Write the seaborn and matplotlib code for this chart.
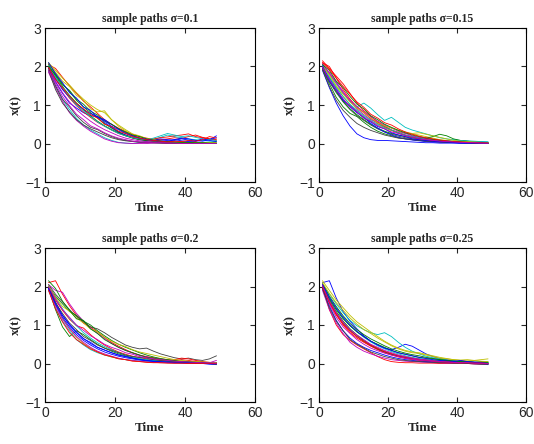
import numpy as np
import pandas as pd
import matplotlib
matplotlib.use("Agg")
import matplotlib.pyplot as plt
import seaborn as sns

sns.set_style("ticks")
plt.rcParams['font.family'] = ['Liberation Sans', 'DejaVu Sans']

# time grid of the sample paths
t = [1, 3, 5, 7, 9, 11, 13, 15, 17, 19, 21, 23, 25, 27, 29, 31, 33, 35, 37, 39, 41, 43, 45, 47, 49]

sigmas = ["0.1", "0.15", "0.2", "0.25"]

paths_s1 = [
    [2.05, 1.95, 1.72, 1.50, 1.30, 1.10, 0.95, 0.78, 0.62, 0.50, 0.40, 0.31, 0.24, 0.18, 0.14, 0.11, 0.10, 0.12, 0.15, 0.13, 0.18, 0.22, 0.16, 0.12, 0.10],
    [2.10, 1.80, 1.55, 1.35, 1.12, 0.95, 0.80, 0.66, 0.52, 0.40, 0.30, 0.22, 0.16, 0.12, 0.08, 0.06, 0.05, 0.04, 0.03, 0.03, 0.02, 0.02, 0.02, 0.01, 0.01],
    [1.95, 1.60, 1.30, 1.05, 0.92, 0.80, 0.72, 0.70, 0.55, 0.42, 0.30, 0.22, 0.15, 0.10, 0.08, 0.09, 0.12, 0.10, 0.08, 0.12, 0.09, 0.06, 0.08, 0.10, 0.20],
    [1.90, 1.50, 1.15, 0.88, 0.65, 0.48, 0.35, 0.25, 0.15, 0.08, 0.03, 0.01, 0.00, 0.02, 0.05, 0.10, 0.16, 0.22, 0.18, 0.15, 0.12, 0.10, 0.08, 0.06, 0.05],
    [1.85, 1.45, 1.10, 0.80, 0.60, 0.45, 0.32, 0.22, 0.12, 0.06, 0.02, 0.01, 0.00, 0.00, 0.00, 0.01, 0.01, 0.00, 0.00, 0.01, 0.00, 0.00, 0.01, 0.00, 0.00],
    [2.10, 1.90, 1.70, 1.52, 1.32, 1.15, 1.00, 0.88, 0.80, 0.62, 0.45, 0.33, 0.22, 0.15, 0.10, 0.07, 0.05, 0.04, 0.03, 0.05, 0.03, 0.02, 0.02, 0.03, 0.02],
    [1.90, 1.40, 1.05, 0.82, 0.62, 0.48, 0.38, 0.30, 0.22, 0.15, 0.10, 0.07, 0.05, 0.03, 0.02, 0.02, 0.01, 0.01, 0.01, 0.01, 0.00, 0.00, 0.01, 0.00, 0.00],
    [2.00, 1.70, 1.42, 1.18, 0.98, 0.82, 0.68, 0.55, 0.45, 0.35, 0.26, 0.20, 0.15, 0.11, 0.09, 0.12, 0.15, 0.17, 0.20, 0.22, 0.25, 0.18, 0.15, 0.12, 0.08],
    [2.05, 1.75, 1.48, 1.25, 1.05, 0.88, 0.72, 0.58, 0.46, 0.36, 0.28, 0.20, 0.14, 0.10, 0.07, 0.05, 0.04, 0.03, 0.02, 0.02, 0.01, 0.01, 0.01, 0.00, 0.00],
    [2.00, 1.68, 1.40, 1.20, 1.02, 0.88, 0.78, 0.70, 0.62, 0.50, 0.38, 0.28, 0.20, 0.14, 0.10, 0.08, 0.06, 0.05, 0.10, 0.14, 0.12, 0.08, 0.06, 0.10, 0.15],
    [2.02, 1.72, 1.45, 1.20, 1.00, 0.85, 0.70, 0.56, 0.45, 0.35, 0.26, 0.20, 0.15, 0.12, 0.10, 0.14, 0.20, 0.26, 0.22, 0.18, 0.20, 0.16, 0.12, 0.10, 0.08],
    [1.98, 1.62, 1.32, 1.08, 0.88, 0.72, 0.58, 0.46, 0.36, 0.28, 0.20, 0.14, 0.10, 0.07, 0.05, 0.04, 0.03, 0.02, 0.02, 0.01, 0.01, 0.01, 0.01, 0.00, 0.00],
    [2.08, 1.85, 1.62, 1.48, 1.25, 1.12, 0.90, 0.82, 0.85, 0.62, 0.48, 0.36, 0.25, 0.20, 0.13, 0.10, 0.06, 0.05, 0.04, 0.03, 0.03, 0.02, 0.02, 0.01, 0.01],
    [1.95, 1.50, 1.15, 0.95, 0.72, 0.55, 0.42, 0.36, 0.26, 0.18, 0.12, 0.08, 0.06, 0.04, 0.03, 0.02, 0.02, 0.01, 0.01, 0.01, 0.01, 0.00, 0.00, 0.00, 0.00],
    [2.00, 1.78, 1.52, 1.38, 1.15, 1.02, 0.84, 0.74, 0.58, 0.50, 0.38, 0.30, 0.22, 0.18, 0.12, 0.09, 0.07, 0.05, 0.04, 0.03, 0.03, 0.02, 0.02, 0.01, 0.01],
    [2.10, 1.82, 1.58, 1.32, 1.18, 0.95, 0.86, 0.68, 0.60, 0.45, 0.36, 0.26, 0.20, 0.14, 0.11, 0.08, 0.06, 0.08, 0.10, 0.07, 0.05, 0.06, 0.12, 0.08, 0.05],
    [1.98, 1.66, 1.45, 1.22, 1.04, 0.90, 0.75, 0.66, 0.50, 0.44, 0.32, 0.26, 0.18, 0.14, 0.10, 0.08, 0.06, 0.04, 0.06, 0.05, 0.08, 0.06, 0.10, 0.18, 0.14],
    [1.90, 1.55, 1.22, 0.98, 0.76, 0.62, 0.46, 0.38, 0.28, 0.20, 0.14, 0.10, 0.06, 0.04, 0.03, 0.02, 0.02, 0.01, 0.01, 0.00, 0.00, 0.00, 0.00, 0.00, 0.00],
]

paths_s2 = [
    [2.10, 2.00, 1.70, 1.40, 1.15, 0.95, 0.80, 0.65, 0.52, 0.42, 0.34, 0.27, 0.21, 0.16, 0.12, 0.10, 0.08, 0.06, 0.05, 0.04, 0.03, 0.03, 0.02, 0.02, 0.01],
    [1.95, 1.55, 1.20, 0.95, 0.78, 0.70, 0.55, 0.42, 0.32, 0.25, 0.20, 0.15, 0.12, 0.10, 0.08, 0.07, 0.06, 0.05, 0.04, 0.03, 0.03, 0.02, 0.02, 0.02, 0.01],
    [1.90, 1.45, 1.05, 0.72, 0.45, 0.25, 0.15, 0.10, 0.08, 0.08, 0.07, 0.06, 0.05, 0.04, 0.03, 0.02, 0.02, 0.01, 0.01, 0.01, 0.00, 0.00, 0.00, 0.00, 0.00],
    [2.05, 1.80, 1.55, 1.30, 1.10, 0.95, 1.05, 0.92, 0.75, 0.60, 0.68, 0.55, 0.42, 0.35, 0.30, 0.25, 0.20, 0.15, 0.12, 0.10, 0.08, 0.07, 0.06, 0.05, 0.04],
    [2.00, 1.85, 1.60, 1.35, 1.10, 0.90, 0.75, 0.62, 0.55, 0.45, 0.35, 0.28, 0.22, 0.18, 0.14, 0.10, 0.08, 0.06, 0.05, 0.04, 0.03, 0.02, 0.02, 0.02, 0.01],
    [2.05, 1.75, 1.48, 1.22, 1.00, 0.85, 0.70, 0.58, 0.48, 0.40, 0.34, 0.30, 0.26, 0.25, 0.22, 0.18, 0.14, 0.10, 0.08, 0.06, 0.05, 0.04, 0.03, 0.03, 0.02],
    [1.95, 1.60, 1.32, 1.08, 0.88, 0.72, 0.60, 0.48, 0.38, 0.30, 0.24, 0.19, 0.15, 0.12, 0.10, 0.08, 0.06, 0.05, 0.04, 0.03, 0.03, 0.02, 0.02, 0.01, 0.01],
    [2.15, 1.95, 1.75, 1.55, 1.30, 1.05, 0.85, 0.70, 0.56, 0.44, 0.35, 0.28, 0.22, 0.17, 0.14, 0.11, 0.08, 0.06, 0.05, 0.04, 0.03, 0.03, 0.02, 0.02, 0.01],
    [2.00, 1.65, 1.35, 1.10, 0.90, 0.75, 0.62, 0.50, 0.40, 0.32, 0.26, 0.22, 0.18, 0.15, 0.12, 0.14, 0.18, 0.24, 0.20, 0.12, 0.08, 0.06, 0.04, 0.03, 0.02],
    [1.98, 1.70, 1.42, 1.15, 0.95, 0.80, 0.68, 0.52, 0.40, 0.30, 0.22, 0.16, 0.12, 0.09, 0.07, 0.05, 0.04, 0.03, 0.03, 0.02, 0.02, 0.01, 0.01, 0.01, 0.01],
    [2.02, 1.72, 1.45, 1.22, 1.02, 0.86, 0.72, 0.60, 0.50, 0.42, 0.35, 0.28, 0.22, 0.18, 0.15, 0.12, 0.10, 0.08, 0.07, 0.06, 0.08, 0.06, 0.05, 0.05, 0.04],
    [2.08, 1.82, 1.58, 1.32, 1.12, 0.96, 0.82, 0.70, 0.58, 0.48, 0.40, 0.32, 0.26, 0.20, 0.16, 0.13, 0.10, 0.08, 0.06, 0.05, 0.04, 0.03, 0.02, 0.02, 0.01],
    [2.00, 1.78, 1.50, 1.28, 1.08, 0.92, 0.80, 0.66, 0.54, 0.46, 0.40, 0.35, 0.30, 0.26, 0.28, 0.24, 0.20, 0.16, 0.12, 0.08, 0.06, 0.05, 0.04, 0.03, 0.02],
    [1.92, 1.48, 1.12, 0.86, 0.68, 0.52, 0.42, 0.34, 0.28, 0.22, 0.18, 0.14, 0.12, 0.10, 0.08, 0.06, 0.05, 0.04, 0.03, 0.03, 0.02, 0.02, 0.01, 0.01, 0.01],
    [2.05, 1.90, 1.62, 1.45, 1.22, 1.02, 0.90, 0.72, 0.62, 0.50, 0.42, 0.34, 0.28, 0.22, 0.18, 0.14, 0.11, 0.08, 0.06, 0.05, 0.04, 0.03, 0.02, 0.02, 0.01],
    [2.02, 1.62, 1.38, 1.12, 0.98, 0.82, 0.66, 0.56, 0.44, 0.38, 0.28, 0.22, 0.18, 0.12, 0.10, 0.08, 0.06, 0.05, 0.04, 0.03, 0.02, 0.02, 0.01, 0.01, 0.00],
    [2.10, 1.92, 1.70, 1.48, 1.28, 1.08, 0.94, 0.76, 0.66, 0.54, 0.48, 0.38, 0.30, 0.24, 0.19, 0.15, 0.12, 0.09, 0.07, 0.05, 0.04, 0.03, 0.02, 0.02, 0.01],
    [1.98, 1.66, 1.40, 1.16, 0.96, 0.82, 0.66, 0.58, 0.46, 0.38, 0.30, 0.26, 0.20, 0.16, 0.12, 0.10, 0.08, 0.06, 0.05, 0.04, 0.03, 0.02, 0.02, 0.01, 0.01],
]

paths_s3 = [
    [2.10, 2.15, 1.80, 1.50, 1.25, 1.05, 0.95, 0.82, 0.68, 0.55, 0.45, 0.36, 0.28, 0.22, 0.18, 0.15, 0.12, 0.10, 0.08, 0.10, 0.08, 0.05, 0.03, 0.02, 0.01],
    [1.95, 1.40, 0.95, 0.70, 0.85, 0.75, 0.62, 0.50, 0.40, 0.32, 0.25, 0.20, 0.15, 0.12, 0.10, 0.08, 0.06, 0.05, 0.04, 0.03, 0.03, 0.02, 0.02, 0.01, 0.01],
    [2.00, 1.60, 1.25, 1.00, 0.80, 0.65, 0.52, 0.42, 0.35, 0.28, 0.22, 0.18, 0.14, 0.11, 0.09, 0.07, 0.06, 0.05, 0.04, 0.03, 0.03, 0.02, 0.02, 0.01, -0.02],
    [1.90, 1.45, 1.10, 0.85, 0.62, 0.48, 0.36, 0.28, 0.22, 0.17, 0.13, 0.10, 0.08, 0.06, 0.05, 0.04, 0.03, 0.02, 0.02, 0.01, 0.01, 0.01, 0.00, 0.00, 0.00],
    [2.05, 1.90, 1.85, 1.55, 1.30, 1.10, 0.92, 0.78, 0.65, 0.52, 0.42, 0.34, 0.27, 0.21, 0.17, 0.13, 0.10, 0.08, 0.06, 0.05, 0.04, 0.03, 0.02, 0.02, 0.08],
    [2.00, 1.55, 1.18, 0.90, 0.68, 0.52, 0.40, 0.30, 0.23, 0.17, 0.13, 0.10, 0.07, 0.05, 0.04, 0.03, 0.02, 0.02, 0.01, 0.01, 0.01, 0.00, 0.00, 0.00, 0.00],
    [2.05, 1.80, 1.60, 1.40, 1.22, 1.08, 0.95, 0.90, 0.80, 0.68, 0.58, 0.48, 0.42, 0.38, 0.40, 0.32, 0.25, 0.20, 0.15, 0.12, 0.14, 0.10, 0.08, 0.12, 0.20],
    [1.98, 1.65, 1.38, 1.15, 0.98, 0.92, 0.75, 0.60, 0.48, 0.38, 0.30, 0.24, 0.19, 0.15, 0.12, 0.10, 0.08, 0.07, 0.10, 0.14, 0.12, 0.08, 0.05, 0.03, 0.02],
    [2.00, 1.75, 1.55, 1.35, 1.25, 1.10, 1.00, 0.85, 0.72, 0.60, 0.50, 0.42, 0.35, 0.28, 0.22, 0.17, 0.13, 0.10, 0.08, 0.06, 0.05, 0.04, 0.03, 0.02, 0.02],
    [1.95, 1.52, 1.20, 0.95, 0.75, 0.60, 0.48, 0.38, 0.30, 0.24, 0.19, 0.15, 0.12, 0.09, 0.07, 0.05, 0.04, 0.03, 0.02, 0.02, 0.01, 0.01, 0.00, -0.02, -0.03],
    [2.02, 1.70, 1.42, 1.18, 0.98, 0.80, 0.66, 0.54, 0.44, 0.36, 0.28, 0.22, 0.17, 0.13, 0.10, 0.08, 0.06, 0.05, 0.04, 0.03, 0.02, 0.02, 0.01, 0.01, 0.01],
    [1.92, 1.50, 1.15, 0.90, 0.70, 0.55, 0.42, 0.32, 0.25, 0.19, 0.14, 0.10, 0.08, 0.06, 0.04, 0.03, 0.02, 0.02, 0.01, 0.01, 0.01, 0.00, 0.00, 0.00, 0.00],
    [2.02, 1.72, 1.48, 1.36, 1.18, 1.05, 0.90, 0.82, 0.68, 0.58, 0.50, 0.44, 0.36, 0.30, 0.26, 0.22, 0.18, 0.14, 0.10, 0.08, 0.06, 0.05, 0.04, 0.03, 0.02],
    [1.98, 1.58, 1.30, 1.05, 0.88, 0.70, 0.60, 0.48, 0.40, 0.34, 0.28, 0.22, 0.18, 0.16, 0.14, 0.10, 0.08, 0.06, 0.05, 0.04, 0.03, 0.02, 0.01, 0.00, -0.02],
    [2.15, 1.95, 1.62, 1.38, 1.16, 1.12, 0.90, 0.78, 0.62, 0.52, 0.42, 0.34, 0.28, 0.22, 0.16, 0.14, 0.10, 0.08, 0.06, 0.05, 0.04, 0.03, 0.02, 0.01, 0.00],
    [1.95, 1.55, 1.25, 1.02, 0.82, 0.64, 0.55, 0.42, 0.35, 0.28, 0.22, 0.18, 0.14, 0.10, 0.08, 0.06, 0.05, 0.04, 0.03, 0.02, 0.02, 0.01, 0.01, 0.00, 0.00],
    [1.90, 1.42, 1.08, 0.80, 0.62, 0.50, 0.38, 0.30, 0.22, 0.18, 0.12, 0.10, 0.06, 0.05, 0.03, 0.02, 0.02, 0.01, 0.01, 0.01, 0.00, 0.00, 0.00, 0.00, 0.00],
    [2.00, 1.68, 1.40, 1.20, 1.00, 0.86, 0.72, 0.62, 0.50, 0.42, 0.36, 0.28, 0.24, 0.18, 0.15, 0.12, 0.10, 0.08, 0.06, 0.05, 0.04, 0.03, 0.02, 0.02, 0.01],
]

paths_s4 = [
    [2.00, 1.40, 1.00, 0.75, 0.60, 0.48, 0.38, 0.28, 0.18, 0.10, 0.05, 0.03, 0.02, 0.02, 0.01, 0.01, 0.01, 0.00, 0.00, 0.00, 0.00, 0.00, -0.01, -0.01, -0.01],
    [2.05, 1.65, 1.35, 1.10, 0.90, 0.74, 0.60, 0.48, 0.38, 0.30, 0.24, 0.19, 0.16, 0.13, 0.12, 0.10, 0.08, 0.07, 0.06, 0.05, 0.04, 0.04, 0.03, 0.05, 0.04],
    [2.10, 2.15, 1.70, 1.35, 1.10, 0.90, 0.72, 0.58, 0.48, 0.40, 0.36, 0.42, 0.50, 0.45, 0.35, 0.25, 0.18, 0.13, 0.10, 0.08, 0.06, 0.05, 0.04, 0.03, -0.02],
    [2.05, 1.80, 1.55, 1.32, 1.12, 0.98, 0.88, 0.80, 0.75, 0.80, 0.70, 0.55, 0.42, 0.32, 0.25, 0.19, 0.15, 0.12, 0.09, 0.07, 0.05, 0.04, 0.03, 0.02, 0.02],
    [1.90, 1.40, 1.05, 0.78, 0.55, 0.42, 0.32, 0.25, 0.19, 0.14, 0.10, 0.08, 0.06, 0.05, 0.04, 0.03, 0.02, 0.02, 0.01, 0.01, 0.01, 0.00, -0.01, -0.02, -0.03],
    [2.15, 1.90, 1.65, 1.45, 1.25, 1.08, 0.95, 0.82, 0.70, 0.58, 0.48, 0.40, 0.34, 0.30, 0.28, 0.24, 0.20, 0.16, 0.13, 0.10, 0.09, 0.10, 0.08, 0.10, 0.12],
    [1.98, 1.60, 1.30, 1.05, 0.86, 0.70, 0.57, 0.46, 0.37, 0.30, 0.24, 0.19, 0.15, 0.12, 0.10, 0.08, 0.06, 0.05, 0.04, 0.03, 0.03, 0.02, 0.02, 0.01, 0.01],
    [2.02, 1.62, 1.28, 1.00, 0.80, 0.66, 0.55, 0.45, 0.36, 0.28, 0.22, 0.17, 0.13, 0.10, 0.08, 0.06, 0.05, 0.04, 0.03, 0.02, 0.02, 0.01, 0.01, 0.00, 0.00],
    [2.08, 1.75, 1.48, 1.24, 1.04, 0.88, 0.75, 0.64, 0.55, 0.46, 0.38, 0.32, 0.27, 0.23, 0.20, 0.16, 0.13, 0.10, 0.08, 0.06, 0.05, 0.04, 0.03, 0.03, 0.02],
    [1.95, 1.50, 1.12, 0.85, 0.66, 0.52, 0.42, 0.34, 0.28, 0.22, 0.17, 0.13, 0.10, 0.08, 0.06, 0.05, 0.04, 0.06, 0.08, 0.05, 0.03, 0.02, 0.01, 0.00, -0.02],
    [2.00, 1.70, 1.42, 1.18, 0.98, 0.82, 0.68, 0.56, 0.46, 0.38, 0.31, 0.25, 0.20, 0.16, 0.13, 0.10, 0.08, 0.06, 0.05, 0.04, 0.03, 0.02, 0.02, 0.01, 0.01],
    [2.05, 1.55, 1.20, 0.95, 0.78, 0.62, 0.50, 0.40, 0.33, 0.27, 0.22, 0.18, 0.14, 0.11, 0.09, 0.07, 0.05, 0.04, 0.03, 0.03, 0.02, 0.02, 0.01, 0.01, 0.00],
    [2.10, 1.82, 1.58, 1.38, 1.18, 1.02, 0.88, 0.78, 0.66, 0.56, 0.46, 0.38, 0.32, 0.28, 0.26, 0.22, 0.18, 0.14, 0.12, 0.10, 0.08, 0.07, 0.08, 0.06, 0.05],
    [1.95, 1.45, 1.10, 0.85, 0.62, 0.50, 0.40, 0.30, 0.24, 0.18, 0.14, 0.10, 0.08, 0.06, 0.05, 0.04, 0.03, 0.02, 0.02, 0.01, 0.01, 0.00, -0.01, -0.02, -0.02],
    [2.00, 1.68, 1.40, 1.16, 0.98, 0.82, 0.70, 0.58, 0.50, 0.42, 0.34, 0.28, 0.24, 0.20, 0.16, 0.14, 0.12, 0.10, 0.08, 0.06, 0.05, 0.04, 0.03, 0.02, 0.02],
    [2.05, 1.72, 1.44, 1.20, 1.00, 0.84, 0.70, 0.58, 0.48, 0.40, 0.34, 0.28, 0.24, 0.20, 0.16, 0.13, 0.10, 0.08, 0.06, 0.05, 0.08, 0.05, 0.03, 0.02, 0.00],
    [1.98, 1.58, 1.26, 1.02, 0.84, 0.70, 0.58, 0.48, 0.40, 0.32, 0.26, 0.21, 0.17, 0.14, 0.11, 0.09, 0.07, 0.05, 0.04, 0.03, 0.02, 0.02, 0.01, 0.01, 0.00],
    [2.02, 1.62, 1.32, 1.08, 0.88, 0.74, 0.62, 0.50, 0.42, 0.34, 0.28, 0.22, 0.18, 0.14, 0.11, 0.09, 0.07, 0.05, 0.04, 0.03, 0.02, 0.02, 0.01, 0.01, 0.00],
]

# MATLAB-style default line colours (r g b c m y k ...)
matlab_colors = ["#ff0000", "#008000", "#0000ff", "#00bfbf", "#bf00bf", "#bfbf00",
                 "#404040", "#ff0000", "#008000", "#0000ff", "#00bfbf", "#bf00bf",
                 "#bfbf00", "#404040", "#008000", "#0000ff", "#ff0000", "#bf00bf"]

all_paths = [paths_s1, paths_s2, paths_s3, paths_s4]

W, H = 534, 444
fig = plt.figure(figsize=(W / 100, H / 100), dpi=100)
boxes = [
    (45, 28, 255, 182),
    (319, 28, 526, 182),
    (45, 248, 255, 402),
    (319, 248, 526, 402),
]

serif = ['Liberation Serif', 'DejaVu Serif']

for (x0, y0, x1, y1), sig, paths in zip(boxes, sigmas, all_paths):
    ax = fig.add_axes([x0 / W, 1 - y1 / H, (x1 - x0) / W, (y1 - y0) / H])
    rows = []
    for i, p in enumerate(paths):
        for tt, v in zip(t, p):
            rows.append({"t": tt, "x": v, "path": i})
    df = pd.DataFrame(rows)
    sns.lineplot(data=df, x="t", y="x", hue="path", palette=matlab_colors,
                 estimator=None, sort=False, legend=False, linewidth=0.6, ax=ax)
    ax.set_xlim(0, 60)
    ax.set_ylim(-1, 3)
    ax.set_xticks([0, 20, 40, 60])
    ax.set_yticks([-1, 0, 1, 2, 3])
    ax.tick_params(direction="in", top=True, right=True, length=3.5,
                   width=0.8, labelsize=10, pad=3)
    for s in ax.spines.values():
        s.set_linewidth(0.8)
        s.set_color("black")
    ax.set_title("sample paths \u03c3=" + sig, fontsize=8.5, fontweight="bold",
                 family=serif, pad=4)
    ax.set_xlabel("Time", fontsize=9.5, fontweight="bold", family=serif, labelpad=1)
    ax.set_ylabel("x(t)", fontsize=9.5, fontweight="bold", family=serif, labelpad=2)

fig.savefig("out.png", dpi=100)
